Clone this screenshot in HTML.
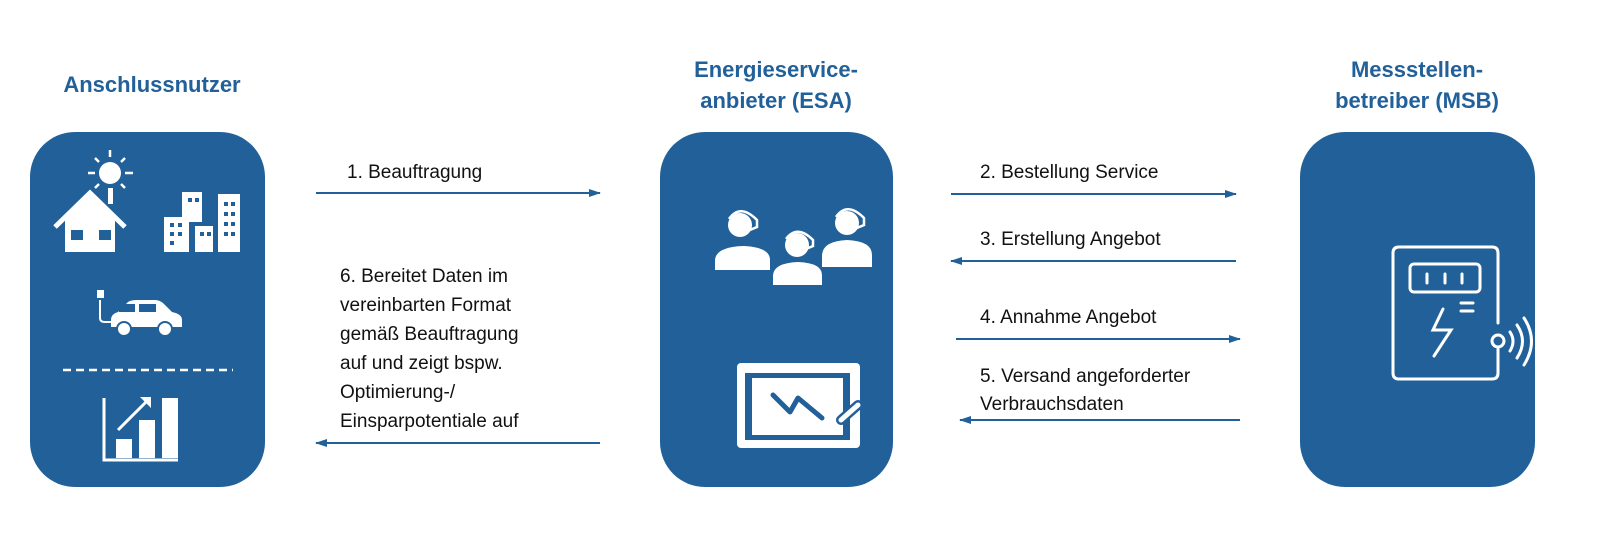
<!DOCTYPE html>
<html><head><meta charset="utf-8"><style>
html,body{margin:0;padding:0;background:#fff;width:1600px;height:535px;overflow:hidden}
svg text{font-family:"Liberation Sans",sans-serif}
</style></head><body>
<svg width="1600" height="535" viewBox="0 0 1600 535" xmlns="http://www.w3.org/2000/svg">
<defs><marker id="a" markerWidth="12" markerHeight="8" refX="11" refY="4" orient="auto" markerUnits="userSpaceOnUse"><path d="M0,0 L12,4 L0,8 Z" fill="#22609a"/></marker></defs>
<g fill="#22609a" font-weight="bold" font-size="22" text-anchor="middle">
<text x="152" y="92">Anschlussnutzer</text>
<text x="776" y="77">Energieservice-</text>
<text x="776" y="108">anbieter (ESA)</text>
<text x="1417" y="77">Messstellen-</text>
<text x="1417" y="108">betreiber (MSB)</text>
</g>
<rect x="30" y="132" width="235" height="355" rx="45" fill="#22609a"/>
<rect x="660" y="132" width="233" height="355" rx="45" fill="#22609a"/>
<rect x="1300" y="132" width="235" height="355" rx="45" fill="#22609a"/>
<!-- left icons -->
<g fill="#fff" stroke="#fff">
<circle cx="110" cy="173" r="11" stroke="none"/>
<g stroke-width="2.5"><line x1="110" y1="150" x2="110" y2="157"/><line x1="88" y1="173" x2="95" y2="173"/><line x1="125" y1="173" x2="133" y2="173"/><line x1="95" y1="158" x2="99" y2="162"/><line x1="125" y1="158" x2="121" y2="162"/><line x1="121" y1="184" x2="125" y2="188"/><line x1="99" y1="184" x2="95" y2="188"/></g>
<rect x="108" y="188" width="5" height="16" stroke="none"/>
<path d="M55,227 L90,193 L125,227" fill="none" stroke-width="5"/>
<path d="M65,218 L90,195 L115,218 L115,252 L65,252 Z" stroke="none"/>
<rect x="71" y="230" width="12" height="10" fill="#22609a" stroke="none"/>
<rect x="99" y="230" width="12" height="10" fill="#22609a" stroke="none"/>
<rect x="164" y="217" width="25" height="35" stroke="none"/>
<rect x="182" y="192" width="20" height="30" stroke="none"/>
<rect x="195" y="226" width="18" height="26" stroke="none"/>
<rect x="218" y="194" width="22" height="58" stroke="none"/>
</g>
<g fill="#22609a"><rect x="170" y="223" width="4" height="4"/><rect x="178" y="223" width="4" height="4"/><rect x="170" y="232" width="4" height="4"/><rect x="178" y="232" width="4" height="4"/><rect x="170" y="241" width="4" height="4"/><rect x="188" y="198" width="4" height="4"/><rect x="195" y="198" width="4" height="4"/><rect x="200" y="232" width="4" height="4"/><rect x="207" y="232" width="4" height="4"/><rect x="224" y="202" width="4" height="4"/><rect x="231" y="202" width="4" height="4"/><rect x="224" y="212" width="4" height="4"/><rect x="231" y="212" width="4" height="4"/><rect x="224" y="222" width="4" height="4"/><rect x="231" y="222" width="4" height="4"/><rect x="224" y="232" width="4" height="4"/><rect x="231" y="232" width="4" height="4"/></g>
<g fill="#fff" stroke="#fff">
<path d="M111,327 L111,320 Q111,314 118,312 L128,302 Q131,300 137,300 L155,300 Q160,300 164,304 L172,312 Q182,314 182,320 L182,327 Z" stroke="none"/>
<rect x="119" y="304" width="16" height="8" fill="#22609a" stroke="none"/><rect x="139" y="304" width="17" height="8" fill="#22609a" stroke="none"/>
<circle cx="124" cy="329" r="7" stroke="#22609a" stroke-width="2"/><circle cx="165" cy="329" r="7" stroke="#22609a" stroke-width="2"/>
<path d="M100,300 L100,318 Q100,322 105,322 L112,322" fill="none" stroke-width="2"/>
<rect x="97" y="290" width="7" height="8" stroke="none"/>
<line x1="63" y1="370" x2="233" y2="370" stroke-width="2.5" stroke-dasharray="8,5"/>
<path d="M104,398 L104,460 L178,460" fill="none" stroke-width="3"/>
<rect x="116" y="439" width="16" height="19" stroke="none"/><rect x="139" y="420" width="16" height="38" stroke="none"/><rect x="162" y="398" width="16" height="60" stroke="none"/>
<line x1="118" y1="430" x2="146" y2="402" stroke-width="3"/><path d="M140,397 L151,397 L151,408 Z" stroke="none"/>
</g>
<!-- middle icons -->
<g fill="#fff" stroke="#fff">
<circle cx="740" cy="225" r="12" stroke="none"/><path d="M715,270 L715,260 Q716,247 743,246 Q770,247 770,260 L770,270 Z" stroke="none"/>
<circle cx="847" cy="223" r="12" stroke="none"/><path d="M822,267 L822,255 Q823,241 847,240 Q872,241 872,255 L872,267 Z" stroke="none"/>
<circle cx="797" cy="245" r="12" stroke="none"/><path d="M773,285 L773,275 Q774,263 798,262 Q822,263 822,275 L822,285 Z" stroke="none"/>
<g fill="none" stroke-width="2.5"><path d="M729,219 Q740,203 757,220 L757,227 L745,232"/><path d="M836,217 Q847,201 864,218 L864,225 L852,230"/><path d="M786,239 Q797,224 813,240 L813,246 L801,251"/></g>
<rect x="737" y="363" width="123" height="85" rx="4" stroke="none"/>
</g>
<rect x="745" y="373" width="105" height="67" fill="#22609a"/>
<rect x="752" y="378" width="91" height="57" fill="#fff"/>
<path d="M773,395 L790,412 L798,398 L822,418" fill="none" stroke="#22609a" stroke-width="5" stroke-linecap="round" stroke-linejoin="round"/>
<line x1="858" y1="405" x2="841" y2="420" stroke="#22609a" stroke-width="10" stroke-linecap="round"/>
<line x1="858" y1="405" x2="841" y2="420" stroke="#fff" stroke-width="5" stroke-linecap="round"/>
<!-- right icon -->
<g fill="none" stroke="#fff" stroke-width="3" stroke-linecap="round">
<path d="M1498,323 L1498,253 Q1498,247 1492,247 L1399,247 Q1393,247 1393,253 L1393,373 Q1393,379 1399,379 L1492,379 Q1498,379 1498,373 L1498,349"/>
<rect x="1410" y="264" width="70" height="28" rx="4"/>
<line x1="1427" y1="274" x2="1427" y2="283"/><line x1="1445" y1="274" x2="1445" y2="283"/><line x1="1462" y1="274" x2="1462" y2="283"/>
<line x1="1461" y1="303" x2="1473" y2="303"/><line x1="1461" y1="311" x2="1473" y2="311"/>
<path d="M1443,309 L1433,330 L1451,330 L1434,356"/>
<circle cx="1498" cy="341" r="6"/>
<path d="M1510,332 Q1516,341 1510,351"/><path d="M1517,325 Q1528,341 1517,358"/><path d="M1524,318 Q1539,341 1524,365"/>
</g>
<!-- arrows -->
<g stroke="#22609a" stroke-width="2" marker-end="url(#a)">
<line x1="316" y1="193" x2="600" y2="193"/>
<line x1="600" y1="443" x2="316" y2="443"/>
<line x1="951" y1="194" x2="1236" y2="194"/>
<line x1="1236" y1="261" x2="951" y2="261"/>
<line x1="956" y1="339" x2="1240" y2="339"/>
<line x1="1240" y1="420" x2="960" y2="420"/>
</g>
<g font-size="19" fill="#111">
<text x="347" y="178">1. Beauftragung</text>
<text x="340" y="282">6. Bereitet Daten im</text>
<text x="340" y="311">vereinbarten Format</text>
<text x="340" y="340">gemäß Beauftragung</text>
<text x="340" y="369">auf und zeigt bspw.</text>
<text x="340" y="398">Optimierung-/</text>
<text x="340" y="427">Einsparpotentiale auf</text>
<text x="980" y="178">2. Bestellung Service</text>
<text x="980" y="245">3. Erstellung Angebot</text>
<text x="980" y="323">4. Annahme Angebot</text>
<text x="980" y="382">5. Versand angeforderter</text>
<text x="980" y="410">Verbrauchsdaten</text>
</g>
</svg>
</body></html>
